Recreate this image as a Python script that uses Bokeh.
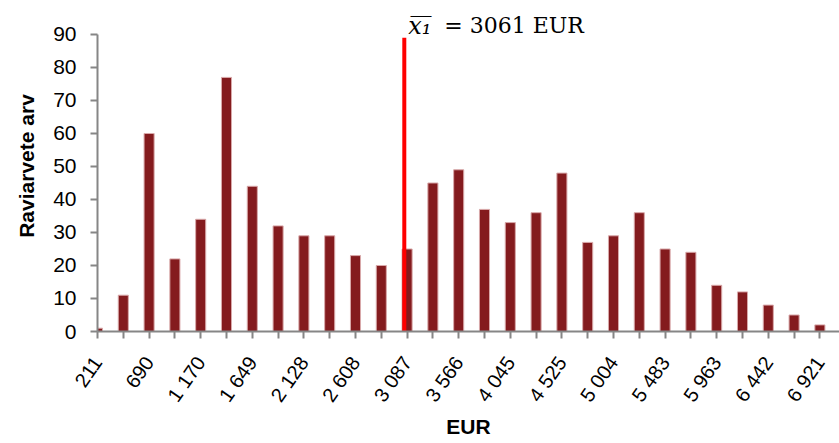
import numpy as np
from bokeh.plotting import figure
from bokeh.models import Range1d, FixedTicker, Label, ColumnDataSource
from bokeh.embed import file_html
from bokeh.resources import INLINE

# Data (counts per income bin)
counts = [1, 11, 60, 22, 34, 77, 44, 32, 29, 29, 23, 20, 25, 45, 49,
          37, 33, 36, 48, 27, 29, 36, 25, 24, 14, 12, 8, 5, 2]
tick_labels = ["211", "690", "1 170", "1 649", "2 128", "2 608", "3 087", "3 566",
               "4 045", "4 525", "5 004", "5 483", "5 963", "6 442", "6 921"]
tick_values_eur = [211, 690, 1170, 1649, 2128, 2608, 3087, 3566,
                   4045, 4525, 5004, 5483, 5963, 6442, 6921]
mean_eur = 3061
mean_line_top = 89

idx = list(range(len(counts)))
label_idx = idx[::2]
mean_idx = float(np.interp(mean_eur, tick_values_eur, label_idx))

p = figure(width=839, height=443, output_backend="svg", toolbar_location=None,
           x_range=Range1d(0, 28.76), y_range=Range1d(0, 100.3),
           min_border_left=97, min_border_right=0, min_border_top=0, min_border_bottom=112)
p.outline_line_color = None
p.xgrid.visible = False
p.ygrid.visible = False

src = ColumnDataSource(dict(x=idx, top=counts))
p.vbar(x="x", top="top", bottom=0, width=0.39, source=src,
       fill_color="#841B1E", line_color="#D9A9AA", line_width=1)

p.segment(x0=[mean_idx], y0=[0], x1=[mean_idx], y1=[mean_line_top],
          line_color="#FF0000", line_width=4)

axis_col = "#868686"
# x axis
xa = p.xaxis[0]
xa.ticker = FixedTicker(ticks=idx)
overrides = {i: "" for i in idx}
for i, lab in zip(label_idx, tick_labels):
    overrides[i] = lab
xa.major_label_overrides = overrides
xa.major_label_orientation = 0.96
xa.major_label_text_font = "Liberation Sans"
xa.major_label_text_font_size = "20px"
xa.major_label_text_color = "#000000"
xa.major_label_standoff = 20
xa.major_tick_out = 7
xa.major_tick_in = 0
xa.minor_tick_out = 0
xa.minor_tick_in = 0
xa.axis_line_color = axis_col
xa.axis_line_width = 2
xa.major_tick_line_color = axis_col
xa.major_tick_line_width = 2
xa.axis_label = "EUR"
xa.axis_label_text_font = "Liberation Sans"
xa.axis_label_text_font_style = "bold"
xa.axis_label_text_font_size = "21px"
xa.axis_label_text_color = "#000000"
xa.axis_label_standoff = 0

ya = p.yaxis[0]
ya.ticker = FixedTicker(ticks=list(range(0, 91, 10)))
ya.bounds = (0, 90)
ya.major_label_text_font = "Liberation Sans"
ya.major_label_text_font_size = "21px"
ya.major_label_text_color = "#000000"
ya.major_label_standoff = 14
ya.major_tick_out = 7
ya.major_tick_in = 0
ya.minor_tick_out = 0
ya.minor_tick_in = 0
ya.axis_line_color = axis_col
ya.axis_line_width = 2
ya.major_tick_line_color = axis_col
ya.major_tick_line_width = 2
ya.axis_label = "Raviarvete arv"
ya.axis_label_text_font = "Liberation Sans"
ya.axis_label_text_font_style = "bold"
ya.axis_label_text_font_size = "21px"
ya.axis_label_text_color = "#000000"
ya.axis_label_standoff = 12

lab1 = Label(x=mean_idx, y=92.7, x_offset=4, text="x\u0305\u2081\u0305",
             text_font="DejaVu Serif", text_font_style="italic", text_font_size="24px",
             text_baseline="alphabetic", text_color="#000000")
lab2 = Label(x=mean_idx, y=92.7, x_offset=40, text="= 3061 EUR",
             text_font="DejaVu Serif", text_font_size="22px",
             text_baseline="alphabetic", text_color="#000000")
p.add_layout(lab1)
p.add_layout(lab2)

open("out.html", "w").write(file_html(p, INLINE))
